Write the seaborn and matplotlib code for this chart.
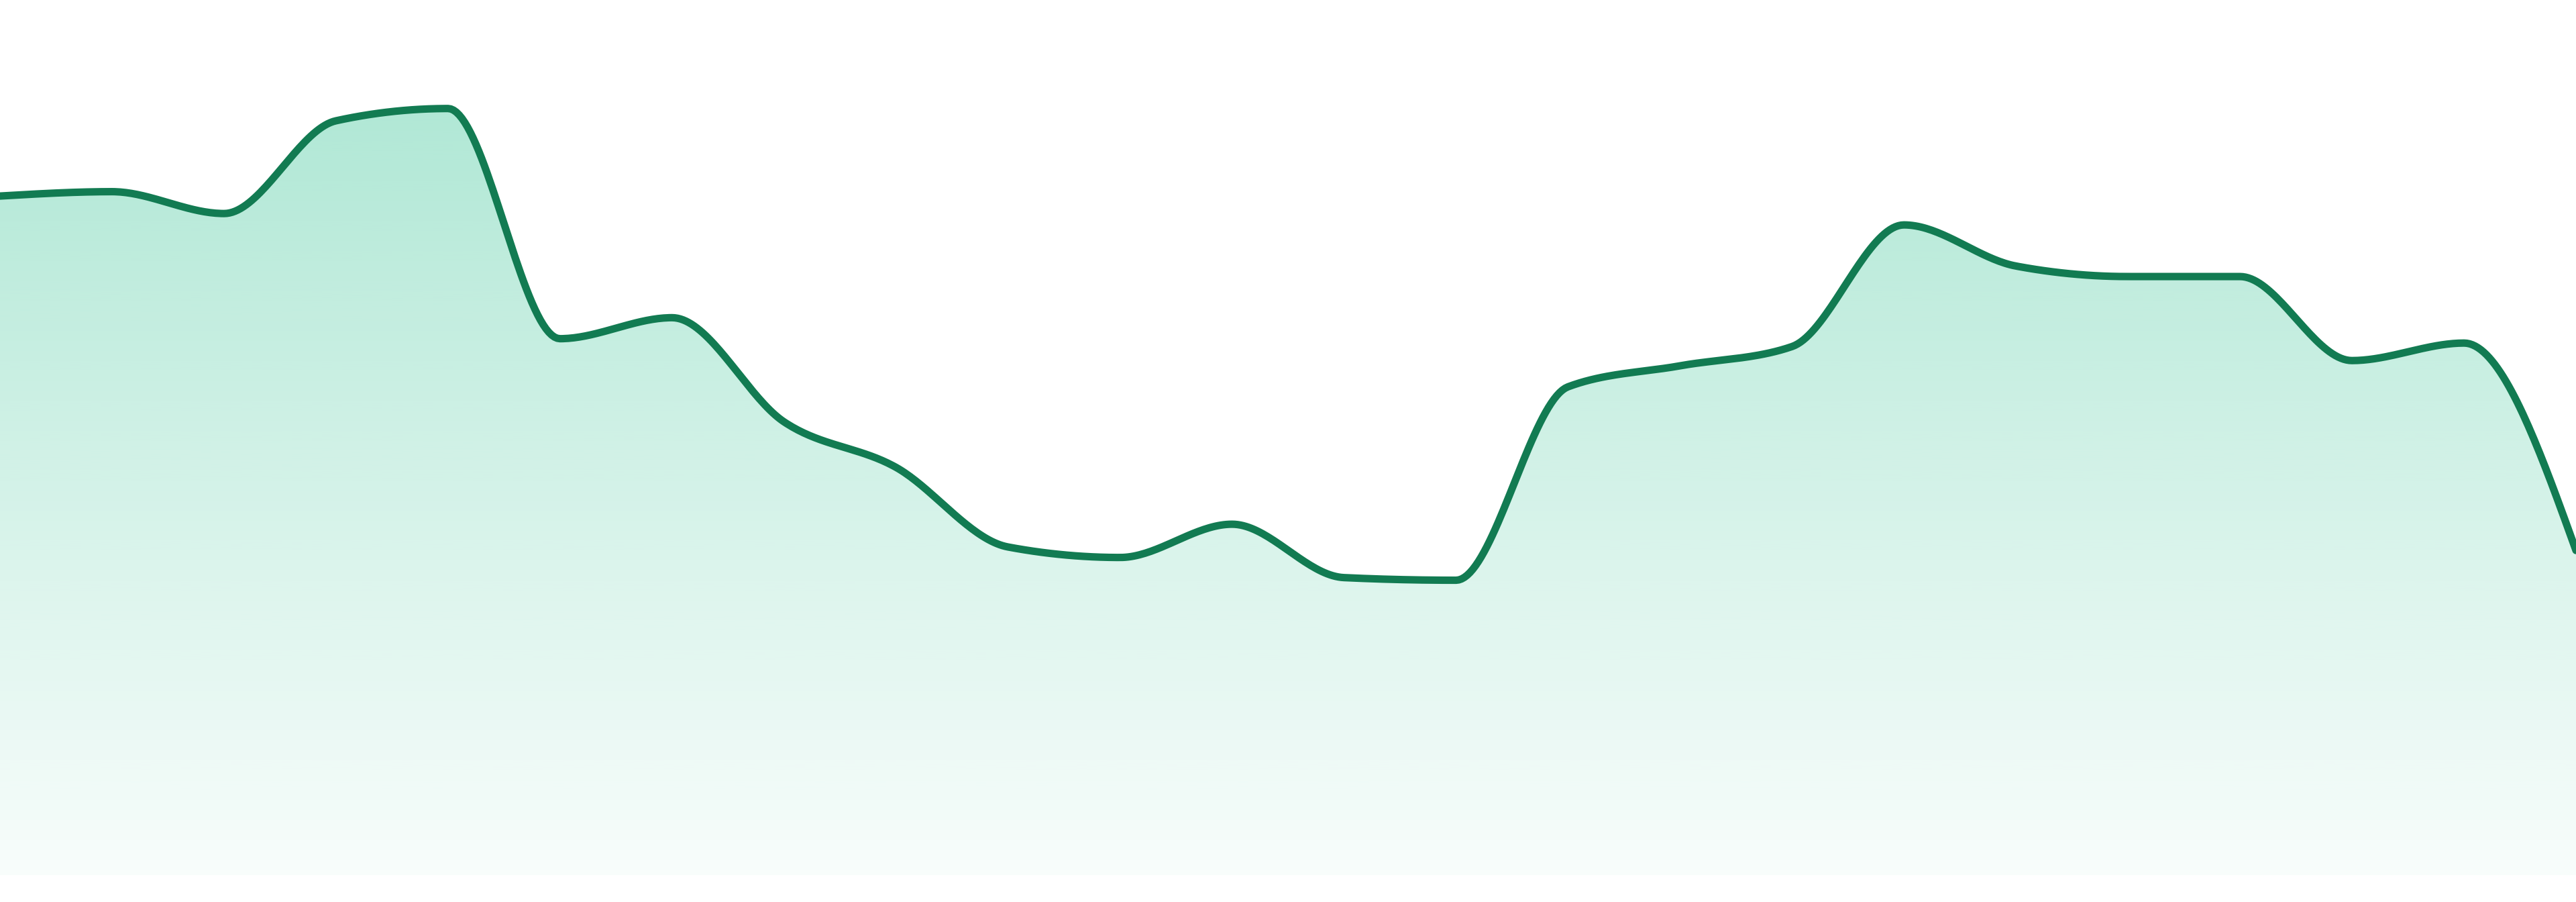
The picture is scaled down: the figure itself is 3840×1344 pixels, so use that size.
import numpy as np
import pandas as pd
import matplotlib
matplotlib.use('Agg')
import matplotlib.pyplot as plt
import seaborn as sns
from matplotlib.colors import to_rgb

# values, one per step along x (0..23)
steps = list(range(24))
values = [77.6, 78.1, 75.6, 86.2, 87.6, 61.3, 63.7, 51.8, 46.6, 37.5, 36.3, 40.1,
          34.0, 33.7, 55.8, 58.2, 60.4, 74.3, 69.6, 68.4, 68.4, 58.8, 60.8, 37.1]

line_color = '#127b52'
fill_color = '#10b981'


def monotone_x(x, y, n=40):
    # d3 curveMonotoneX style smoothing between the given points
    x = np.asarray(x, float)
    y = np.asarray(y, float)
    h = np.diff(x)
    s = np.diff(y) / h
    t = np.zeros(len(x))
    for i in range(1, len(x) - 1):
        p = (s[i - 1] * h[i] + s[i] * h[i - 1]) / (h[i - 1] + h[i])
        t[i] = (np.sign(s[i - 1]) + np.sign(s[i])) * min(abs(s[i - 1]), abs(s[i]), 0.5 * abs(p))
    t[0] = (3 * s[0] - t[1]) / 2
    t[-1] = (3 * s[-1] - t[-2]) / 2
    xs, ys = [], []
    u = np.linspace(0, 1, n, endpoint=False)
    for i in range(len(x) - 1):
        dx = h[i]
        p0 = (x[i], y[i])
        p1 = (x[i] + dx / 3, y[i] + dx * t[i] / 3)
        p2 = (x[i + 1] - dx / 3, y[i + 1] - dx * t[i + 1] / 3)
        p3 = (x[i + 1], y[i + 1])
        b = [(1 - u) ** 3, 3 * (1 - u) ** 2 * u, 3 * (1 - u) * u ** 2, u ** 3]
        xs.append(b[0] * p0[0] + b[1] * p1[0] + b[2] * p2[0] + b[3] * p3[0])
        ys.append(b[0] * p0[1] + b[1] * p1[1] + b[2] * p2[1] + b[3] * p3[1])
    xs.append([x[-1]])
    ys.append([y[-1]])
    return np.concatenate(xs), np.concatenate(ys)


df = pd.DataFrame({'step': steps, 'value': values})
cx, cy = monotone_x(df['step'], df['value'])
curve = pd.DataFrame({'x': cx, 'y': cy})

sns.set_theme(style='white')
fig = plt.figure(figsize=(38.4, 13.44), dpi=100)
ax = fig.add_axes([0, 40 / 1344, 1, 1304 / 1344])
ax.set_xlim(0, 23)
ax.set_ylim(0, 100)
ax.axis('off')

# gradient fill under the curve
poly = ax.fill_between(curve['x'], curve['y'], 0, color='none', lw=0)
top = max(values)
rgb = to_rgb(fill_color)
alpha = np.linspace(0.33, 0.03, 256)[:, None]
grad = np.zeros((256, 1, 4))
grad[..., 0], grad[..., 1], grad[..., 2] = rgb
grad[..., 3] = alpha
img = ax.imshow(grad, extent=[0, 23, 0, top], aspect='auto', origin='upper',
                interpolation='bicubic', zorder=1)
path = poly.get_paths()[0]
img.set_clip_path(path, transform=ax.transData)

sns.lineplot(data=curve, x='x', y='y', ax=ax, color=line_color, linewidth=8,
             sort=False, estimator=None, zorder=3)
ax.set_xlim(0, 23)
ax.set_ylim(0, 100)

fig.savefig('out.png', dpi=100)
